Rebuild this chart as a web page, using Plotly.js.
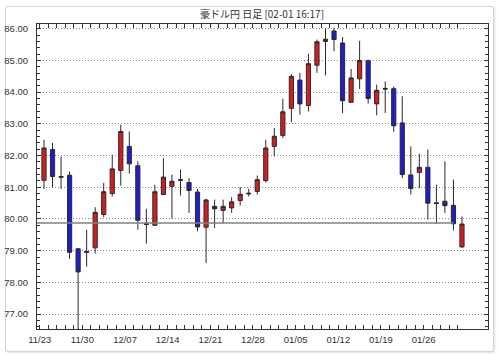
<!DOCTYPE html>
<html>
<head>
<meta charset="utf-8">
<script src="https://cdn.plot.ly/plotly-3.0.1.min.js"></script>
<style>
  html, body { margin: 0; padding: 0; background: #ffffff; }
  #wrap { position: relative; width: 500px; height: 356px; }
  #frame { position: absolute; left: 5px; top: 6px; width: 487px; height: 344px;
           border: 1px solid #d4d4d4; border-radius: 3px;
           box-shadow: 1px 1px 2px rgba(0,0,0,0.12); background: #fff; }
  #chart { position: absolute; left: 0; top: 0; width: 500px; height: 356px; }
</style>
</head>
<body>
<div id="wrap"><div id="frame"></div><div id="chart"></div></div>
<script>
// Weekly tick labels (first trading day of each week)
const weekLabels = ['11/23', '11/30', '12/07', '12/14', '12/21', '12/28', '01/05', '01/12', '01/19', '01/26'];

// Daily OHLC, AUD/JPY (豪ドル円)
const open  = [81.22, 82.19, 81.34, 81.38, 79.06, 78.97, 79.09, 80.14, 80.80, 81.53,
               82.29, 81.68, 79.85, 79.80, 80.77, 81.03, 81.24, 81.15, 80.85, 79.74,
               80.40, 80.27, 80.35, 80.58, 80.79, 80.87, 81.21, 82.29, 82.63, 83.49,
               84.38, 83.58, 84.85, 85.60, 85.93, 85.55, 83.68, 84.42, 84.99, 83.63,
               84.12, 84.11, 83.03, 81.39, 81.47, 81.63, 80.51, 80.56, 80.43, 79.12];
const high  = [82.50, 82.40, 81.97, 81.50, 79.08, 79.66, 80.37, 81.14, 82.03, 82.97,
               82.76, 81.82, 80.32, 81.08, 81.92, 81.40, 81.56, 81.29, 80.95, 80.64,
               80.61, 80.61, 80.69, 81.01, 80.96, 81.37, 82.50, 82.87, 83.79, 84.57,
               84.61, 85.21, 85.66, 86.00, 86.03, 85.74, 84.73, 85.62, 85.03, 84.24,
               84.34, 84.18, 83.87, 82.29, 82.06, 82.19, 81.08, 81.82, 81.24, 80.08];
const low   = [80.95, 81.00, 80.95, 78.74, 76.40, 78.50, 78.91, 80.06, 80.71, 81.05,
               81.43, 79.66, 79.22, 79.80, 80.77, 80.01, 80.74, 80.19, 79.61, 78.61,
               79.72, 79.87, 80.19, 80.42, 80.71, 80.77, 81.15, 81.97, 82.56, 83.05,
               83.29, 83.39, 84.61, 84.53, 85.29, 83.34, 83.66, 84.10, 83.64, 83.27,
               83.34, 82.75, 81.29, 80.77, 80.98, 79.98, 79.85, 80.19, 79.64, 79.09];
const close = [82.24, 81.34, 81.32, 78.95, 78.33, 78.95, 80.21, 80.86, 81.58, 82.76,
               81.74, 79.96, 79.83, 80.86, 81.32, 81.19, 81.22, 80.90, 79.75, 80.60,
               80.32, 80.40, 80.54, 80.78, 80.81, 81.24, 82.24, 82.61, 83.38, 84.50,
               83.63, 84.90, 85.59, 85.67, 85.66, 83.73, 84.45, 85.00, 83.80, 84.06,
               84.10, 82.94, 81.40, 80.96, 81.63, 80.50, 80.49, 80.42, 79.85, 79.84];

// Reference price line (previous close level)
const refLevel = 79.87;

const idx = open.map((_, i) => i);
const tickVals = idx.map(i => i - 0.5);
const tickText = idx.map(i => (i % 5 === 0 && weekLabels[i / 5]) ? weekLabels[i / 5] : '');

const trace = {
  type: 'candlestick',
  x: idx, open: open, high: high, low: low, close: close,
  increasing: { line: { color: '#2a2a2a', width: 1 }, fillcolor: '#d41e1e' },
  decreasing: { line: { color: '#2a2a2a', width: 1 }, fillcolor: '#1e1ecc' },
  whiskerwidth: 0,
  hoverinfo: 'skip',
  showlegend: false
};

const tickFont = { family: 'Liberation Sans, Arial, sans-serif', size: 9.5, color: '#333' };

const layout = {
  width: 500, height: 356,
  margin: { l: 37, r: 12, t: 24, b: 27, pad: 0 },
  paper_bgcolor: 'rgba(0,0,0,0)',
  plot_bgcolor: 'rgba(0,0,0,0)',
  title: {
    text: '豪ドル円 日足 [02-01 16:17]',
    font: { family: 'Noto Sans CJK JP, sans-serif', size: 10, color: '#333' },
    x: 0.524, xanchor: 'center', y: 0.958, yanchor: 'middle'
  },
  showlegend: false,
  xaxis: {
    type: 'linear',
    range: [-0.82, 52.05],
    rangeslider: { visible: false },
    showgrid: false, zeroline: false,
    showline: true, linecolor: '#333', linewidth: 1, mirror: 'ticks',
    ticks: 'inside', ticklen: 4, tickwidth: 1, tickcolor: '#333',
    tickmode: 'array', tickvals: tickVals, ticktext: tickText,
    tickfont: tickFont, ticklabelstandoff: 2,
    fixedrange: true
  },
  yaxis: {
    range: [76.53, 86.15],
    dtick: 1, tick0: 0, tickformat: '.2f',
    showgrid: true, gridcolor: '#8a8a8a', gridwidth: 1, griddash: '1px,2px',
    zeroline: false,
    showline: true, linecolor: '#333', linewidth: 1, mirror: 'ticks',
    ticks: 'inside', ticklen: 4, tickwidth: 1, tickcolor: '#333',
    minor: { dtick: 0.2, ticks: 'inside', ticklen: 3, tickcolor: '#333', showgrid: false },
    tickfont: tickFont, ticklabelstandoff: 6,
    fixedrange: true
  },
  shapes: [{
    type: 'line', xref: 'x', yref: 'y',
    x0: -1, x1: idx[idx.length - 2], y0: refLevel, y1: refLevel,
    line: { color: '#808080', width: 1.5 }, layer: 'above'
  }]
};

Plotly.newPlot('chart', [trace], layout, { displayModeBar: false, staticPlot: true });
</script>
</body>
</html>
